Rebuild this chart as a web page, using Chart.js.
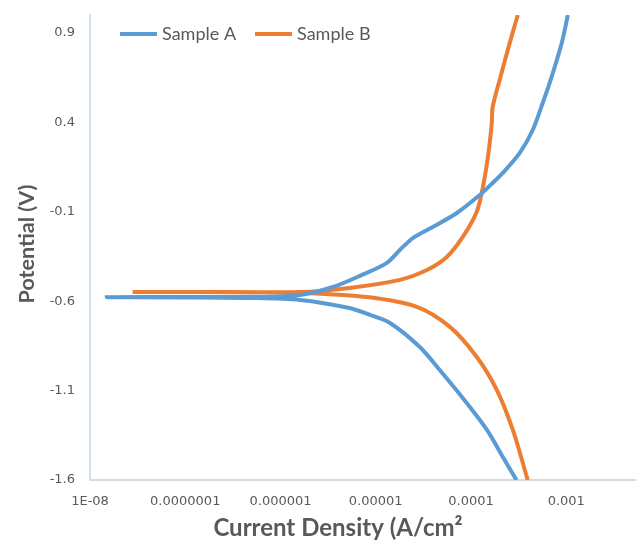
<!DOCTYPE html>
<html>
<head>
<meta charset="utf-8">
<script src="https://cdn.jsdelivr.net/npm/chart.js@4"></script>
<style>
  html, body { margin: 0; padding: 0; background: #fff; }
  #wrap { width: 636px; height: 543px; position: relative; }
</style>
</head>
<body>
<div id="wrap"><canvas id="myChart"></canvas></div>
<script>
// Sample A: cathodic branch (bottom up), down to the minimum, then anodic branch
const aCurrent = [3.0e-4, 2.16e-4, 1.47e-4, 9.0e-5, 4.7e-5, 2.9e-5, 1.41e-5, 8.7e-6, 5.3e-6, 1.6e-6, 4.8e-7, 8.8e-8, 1.5e-8,
                  8.8e-8, 4.8e-7, 1.6e-6, 3.55e-6, 7.0e-6, 1.31e-5, 1.79e-5, 2.45e-5, 3.97e-5, 7.1e-5,
                  1.24e-4, 1.61e-4, 2.16e-4, 3.25e-4, 4.45e-4, 5.66e-4, 6.7e-4, 8.97e-4, 1.04e-3];
const aPotential = [-1.6, -1.471, -1.32, -1.169, -0.985, -0.856, -0.722, -0.677, -0.638, -0.593, -0.582, -0.579, -0.578,
                    -0.577, -0.576, -0.565, -0.521, -0.456, -0.386, -0.314, -0.247, -0.185, -0.107,
                    -0.006, 0.05, 0.117, 0.229, 0.357, 0.508, 0.62, 0.844, 1.0];

// Sample B
const bCurrent = [3.94e-4, 2.75e-4, 1.87e-4, 1.15e-4, 6.0e-5, 2.7e-5, 8.1e-6, 1.6e-6, 1.43e-7, 2.8e-8,
                  1.43e-7, 1.6e-6, 5.3e-6, 1.79e-5, 3.44e-5, 5.57e-5, 8.2e-5, 1.15e-4, 1.33e-4, 1.5e-4,
                  1.65e-4, 1.69e-4, 2.0e-4, 2.55e-4, 3.1e-4];
const bPotential = [-1.6, -1.32, -1.097, -0.912, -0.744, -0.632, -0.577, -0.554, -0.549, -0.549,
                    -0.549, -0.549, -0.526, -0.481, -0.426, -0.353, -0.241, -0.1, 0.035, 0.2,
                    0.39, 0.486, 0.637, 0.844, 1.0];

const xTicks = [1e-8, 1e-7, 1e-6, 1e-5, 1e-4, 1e-3];
const xTickLabels = ['1E-08', '0.0000001', '0.000001', '0.00001', '0.0001', '0.001'];
const yTicks = [-1.6, -1.1, -0.6, -0.1, 0.4, 0.9];

const toPoints = (xs, ys) => xs.map((x, i) => ({ x: x, y: ys[i] }));

// legend + axis titles drawn by hand so they sit where the original has them
const legendX = [120, 255];

const extras = {
    id: 'extras',
    afterDraw(chart) {
        const ctx = chart.ctx;
        ctx.save();
        ctx.fillStyle = '#595959';
        ctx.textBaseline = 'middle';

        chart.data.datasets.forEach((ds, i) => {
            const x = legendX[i];
            ctx.strokeStyle = ds.borderColor;
            ctx.lineWidth = 4;
            ctx.beginPath();
            ctx.moveTo(x, 34);
            ctx.lineTo(x + 37, 34);
            ctx.stroke();
            ctx.save();
            ctx.translate(x + 42, 35);
            ctx.scale(1.06, 1);
            ctx.font = '17px Lato';
            ctx.textAlign = 'left';
            ctx.fillText(ds.label, 0, 0);
            ctx.restore();
        });

        ctx.textAlign = 'center';
        ctx.font = 'bold 24px Lato';
        ctx.fillText('Current Density (A/cm²', 338, 528);
        ctx.translate(27, 244);
        ctx.rotate(-Math.PI / 2);
        ctx.font = 'bold 21.5px Lato';
        ctx.fillText('Potential (V)', 0, 0);
        ctx.restore();
    }
};

const data = {
    datasets: [{
        label: 'Sample A',
        data: toPoints(aCurrent, aPotential),
        borderColor: '#5B9BD5',
        backgroundColor: '#5B9BD5',
        borderWidth: 4,
        pointRadius: 0,
        showLine: true,
        tension: 0.3
    }, {
        label: 'Sample B',
        data: toPoints(bCurrent, bPotential),
        borderColor: '#ED7D31',
        backgroundColor: '#ED7D31',
        borderWidth: 4,
        pointRadius: 0,
        showLine: true,
        tension: 0.3
    }]
};

const tickFont = { family: 'DejaVu Sans', size: 13 };

const config = {
    type: 'scatter',
    data: data,
    options: {
        responsive: true,
        maintainAspectRatio: false,
        animation: false,
        layout: { padding: { top: 15, right: 0, left: 0, bottom: 0 } },
        plugins: {
            legend: { display: false },
            tooltip: { enabled: false }
        },
        scales: {
            x: {
                type: 'logarithmic',
                min: 1e-8,
                max: 0.0054,
                afterBuildTicks: (scale) => { scale.ticks = xTicks.map(v => ({ value: v })); },
                afterFit: (scale) => {
                    scale.height = 63;
                    scale.paddingLeft = 0;
                    scale.paddingRight = 0;
                },
                grid: { display: false, drawTicks: false },
                border: { color: '#d9d9d9', width: 2 },
                ticks: {
                    color: '#595959',
                    font: tickFont,
                    padding: 14,
                    maxRotation: 0,
                    autoSkip: false,
                    callback: (v) => xTickLabels[xTicks.indexOf(v)] ?? ''
                }
            },
            y: {
                min: -1.6,
                max: 1.0,
                afterBuildTicks: (scale) => { scale.ticks = yTicks.map(v => ({ value: v })); },
                afterFit: (scale) => {
                    scale.width = 90;
                    scale.paddingTop = 0;
                    scale.paddingBottom = 0;
                },
                grid: { display: false, drawTicks: false },
                border: { color: '#d3e0ee', width: 2 },
                ticks: {
                    color: '#595959',
                    font: tickFont,
                    padding: 15,
                    callback: (v) => v.toFixed(1)
                }
            }
        }
    },
    plugins: [extras]
};

const myChart = new Chart(document.getElementById('myChart'), config);
</script>
</body>
</html>
